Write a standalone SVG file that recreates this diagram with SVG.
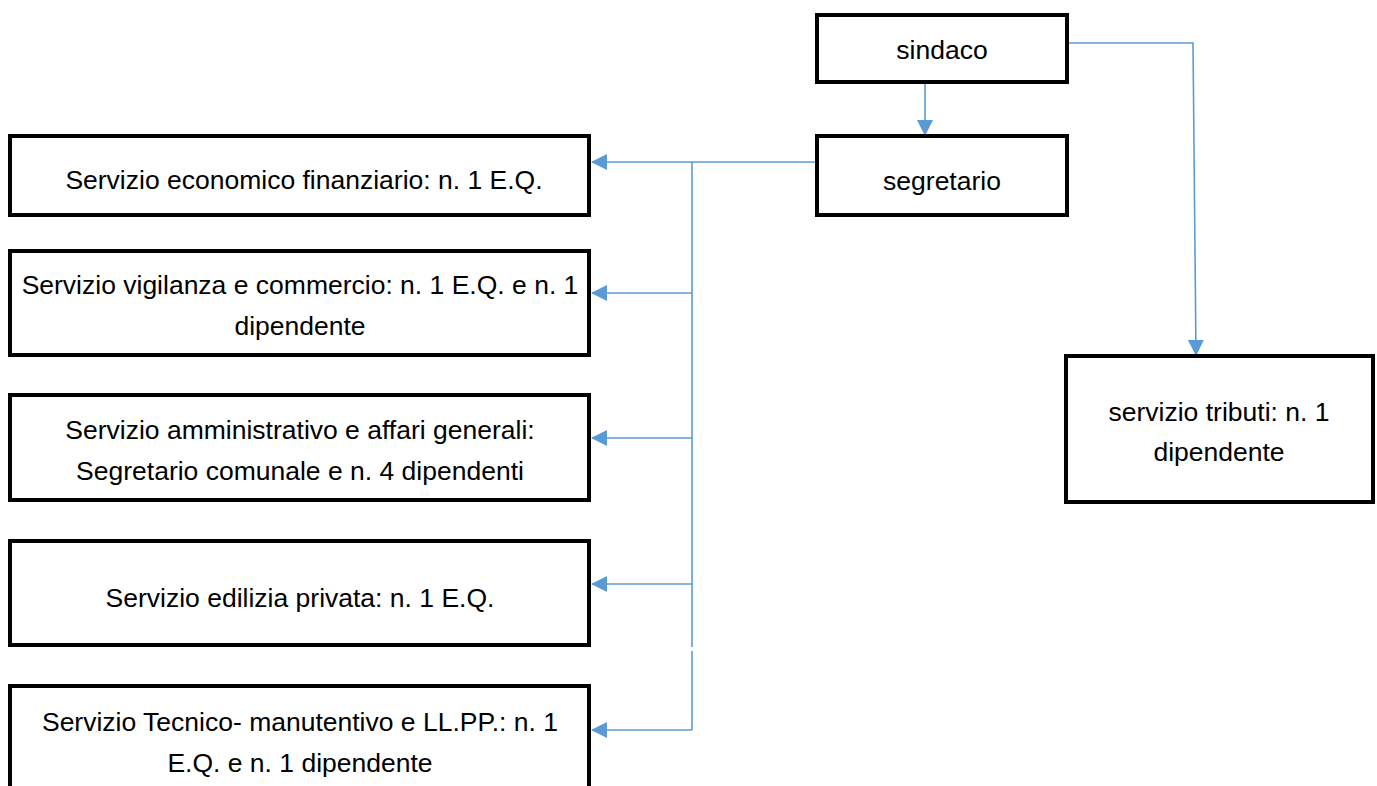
<svg xmlns="http://www.w3.org/2000/svg" width="1377" height="786" viewBox="0 0 1377 786">
<style>
.box{fill:#fff;stroke:#000;stroke-width:4}
.t{font-family:"Liberation Sans",Arial,sans-serif;font-size:26.5px;fill:#000;text-anchor:middle}
.c{fill:none;stroke:#5B9BD5;stroke-width:1.6}
</style>
<defs>
<marker id="ah" markerWidth="16" markerHeight="16" refX="15" refY="8" orient="auto" markerUnits="userSpaceOnUse">
<path d="M0,0 L16,8 L0,16 Z" fill="#5B9BD5"/>
</marker>
</defs>
<rect width="1377" height="786" fill="#fff"/>
<g id="connectors">
<path class="c" d="M925,82 V135" marker-end="url(#ah)"/>
<path class="c" d="M1069,43 H1193 L1196,355" marker-end="url(#ah)"/>
<path class="c" d="M817,162 H592" marker-end="url(#ah)"/>
<path class="c" d="M692,162 V647 M692,651 V730"/>
<path class="c" d="M692,293 H592" marker-end="url(#ah)"/>
<path class="c" d="M692,438 H592" marker-end="url(#ah)"/>
<path class="c" d="M692,584 H592" marker-end="url(#ah)"/>
<path class="c" d="M692,730 H592" marker-end="url(#ah)"/>
</g>
<g id="sindaco"><rect class="box" x="817" y="15" width="250" height="67"/><text class="t" x="942" y="59">sindaco</text></g>
<g id="segretario"><rect class="box" x="817" y="136" width="250" height="79"/><text class="t" x="942" y="190">segretario</text></g>
<g id="tributi"><rect class="box" x="1066" y="356" width="307" height="146"/><text class="t" x="1219" y="421">servizio tributi: n. 1</text><text class="t" x="1219" y="461">dipendente</text></g>
<g id="finanziario"><rect class="box" x="10" y="136" width="579" height="79"/><text class="t" x="304" y="189">Servizio economico finanziario: n. 1 E.Q.</text></g>
<g id="vigilanza"><rect class="box" x="10" y="251" width="579" height="104"/><text class="t" x="300" y="294">Servizio vigilanza e commercio: n. 1 E.Q. e n. 1</text><text class="t" x="300" y="335">dipendente</text></g>
<g id="amministrativo"><rect class="box" x="10" y="395" width="579" height="105"/><text class="t" x="300" y="439">Servizio amministrativo e affari generali:</text><text class="t" x="300" y="480">Segretario comunale e n. 4 dipendenti</text></g>
<g id="edilizia"><rect class="box" x="10" y="541" width="579" height="104"/><text class="t" x="300" y="607">Servizio edilizia privata: n. 1 E.Q.</text></g>
<g id="tecnico"><rect class="box" x="10" y="686" width="579" height="110"/><text class="t" x="300" y="731">Servizio Tecnico- manutentivo e LL.PP.: n. 1</text><text class="t" x="300" y="772">E.Q. e n. 1 dipendente</text></g>
</svg>
